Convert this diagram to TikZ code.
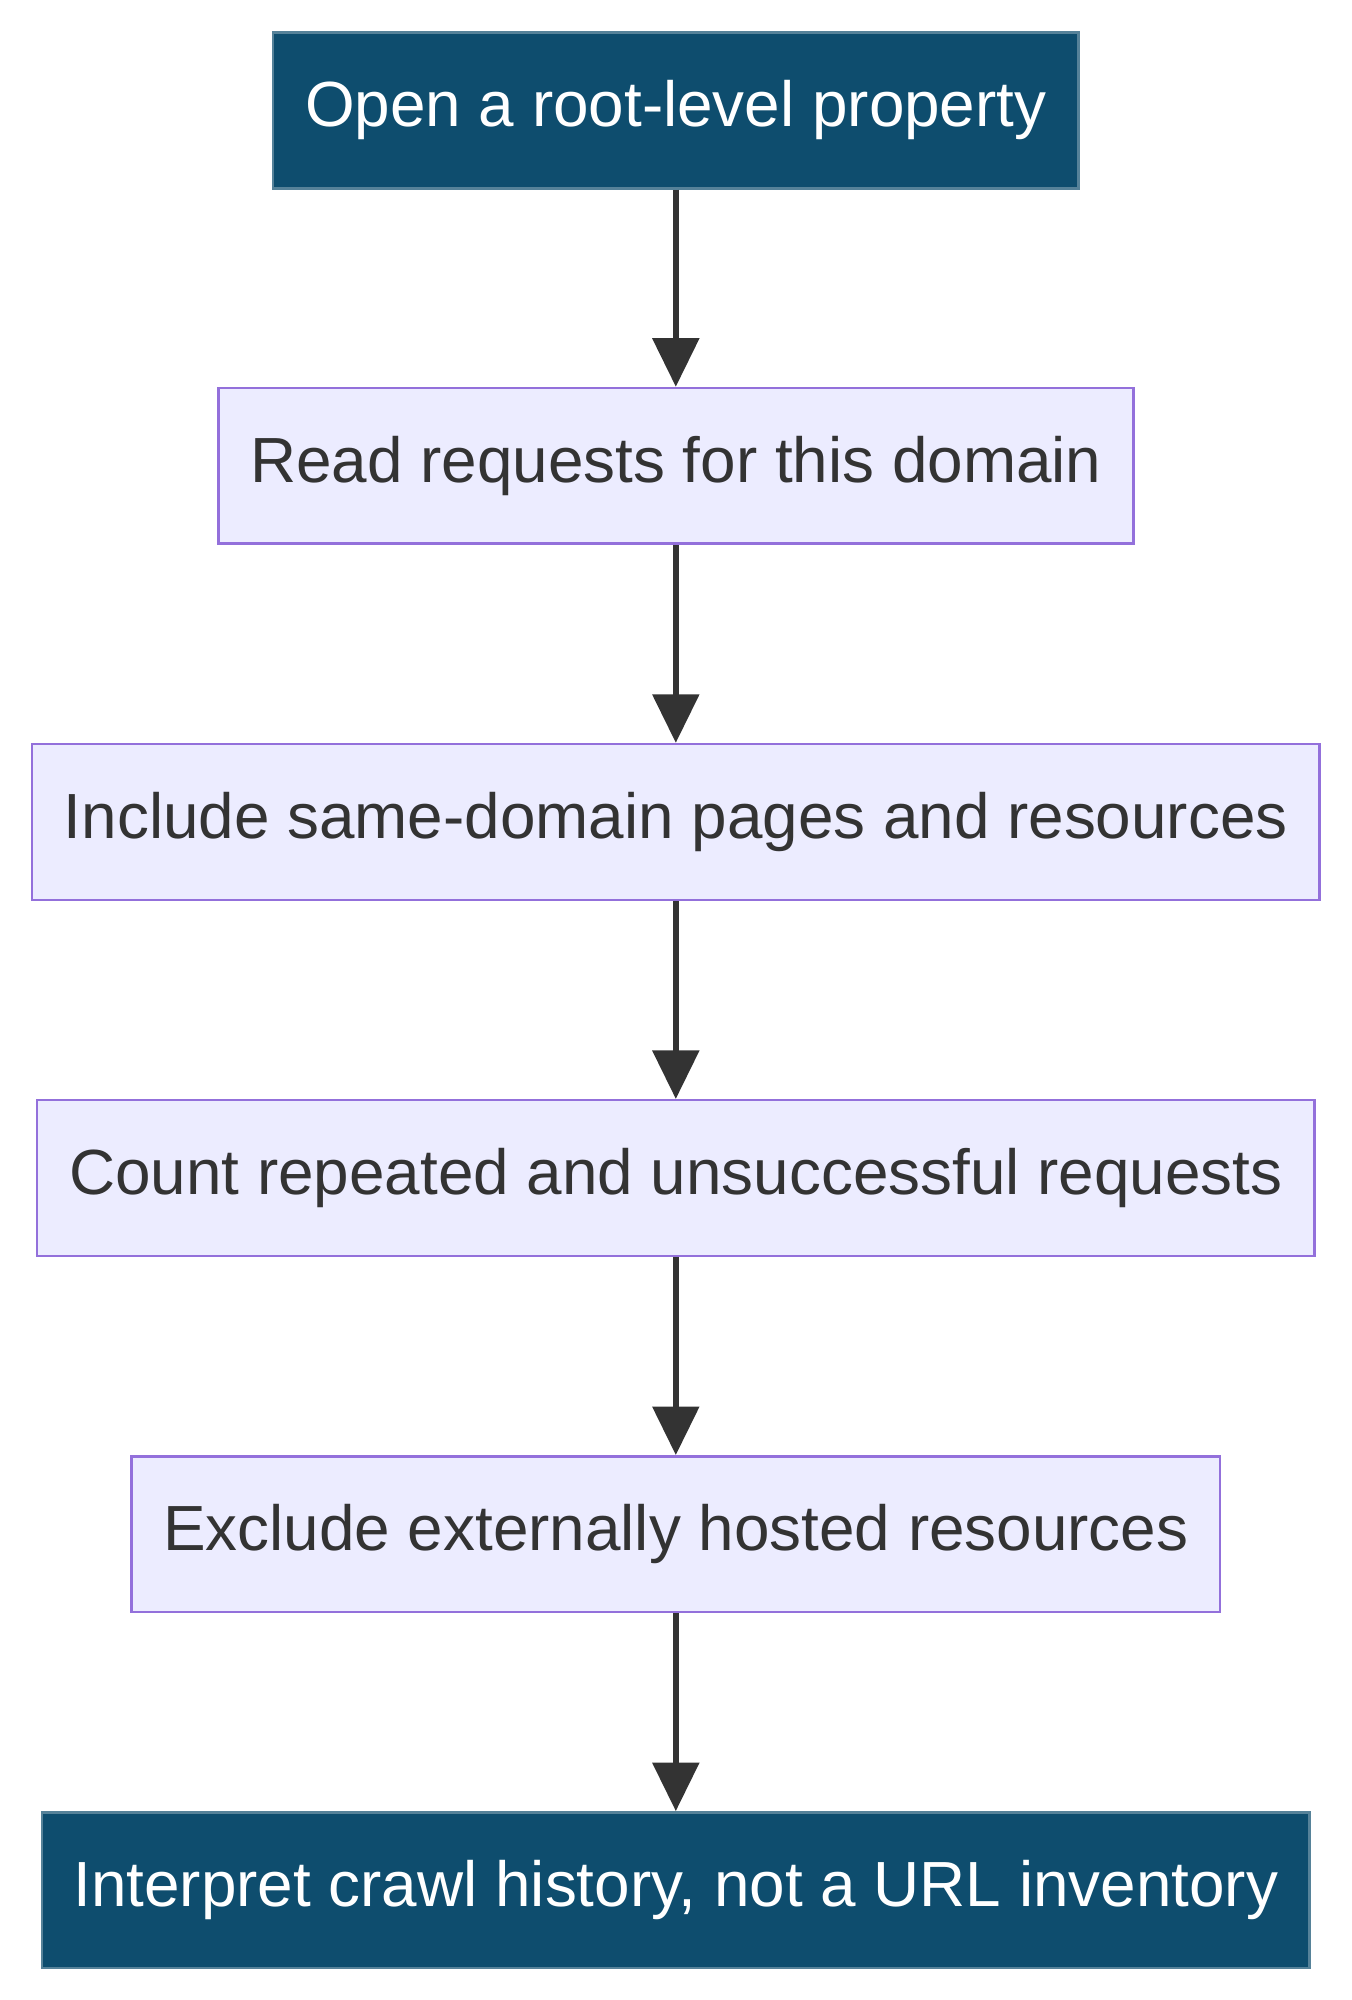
\documentclass[tikz,border=0pt]{standalone}
\usepackage{fontspec}
\setmainfont{Liberation Sans}
\usetikzlibrary{arrows.meta}
\definecolor{dark}{HTML}{0E4D6E}
\definecolor{light}{HTML}{ECECFF}
\definecolor{lstroke}{HTML}{9370DB}
\definecolor{arr}{HTML}{333333}
\tikzset{
 base/.style={rectangle, minimum height=122pt, inner sep=0pt, font=\fontsize{50}{60}\selectfont, line width=2pt},
 darkbox/.style={base, fill=dark, draw=dark!70!white, text=white},
 lightbox/.style={base, fill=light, draw=lstroke, text=arr},
 conn/.style={draw=arr, line width=4.5pt, -{Triangle[length=38pt,width=36pt]}}
}
\begin{document}
\begin{tikzpicture}[x=1pt,y=-1pt]
\useasboundingbox[fill=white] (0,0) rectangle (1059,1567);
\node[darkbox, minimum width=631pt] (a) at (529.5,86.5) {Open a root-level property};
\node[lightbox, minimum width=717pt] (b) at (529.5,365) {Read requests for this domain};
\node[lightbox, minimum width=1009pt] (c) at (529.5,644) {Include same-domain pages and resources};
\node[lightbox, minimum width=1001pt] (d) at (529.5,923) {Count repeated and unsuccessful requests};
\node[lightbox, minimum width=853pt] (e) at (529.5,1202) {Exclude externally hosted resources};
\node[darkbox, minimum width=993pt] (f) at (529.5,1481) {Interpret crawl history, not a URL inventory};
\draw[conn] (a) -- (b);
\draw[conn] (b) -- (c);
\draw[conn] (c) -- (d);
\draw[conn] (d) -- (e);
\draw[conn] (e) -- (f);
\end{tikzpicture}
\end{document}
